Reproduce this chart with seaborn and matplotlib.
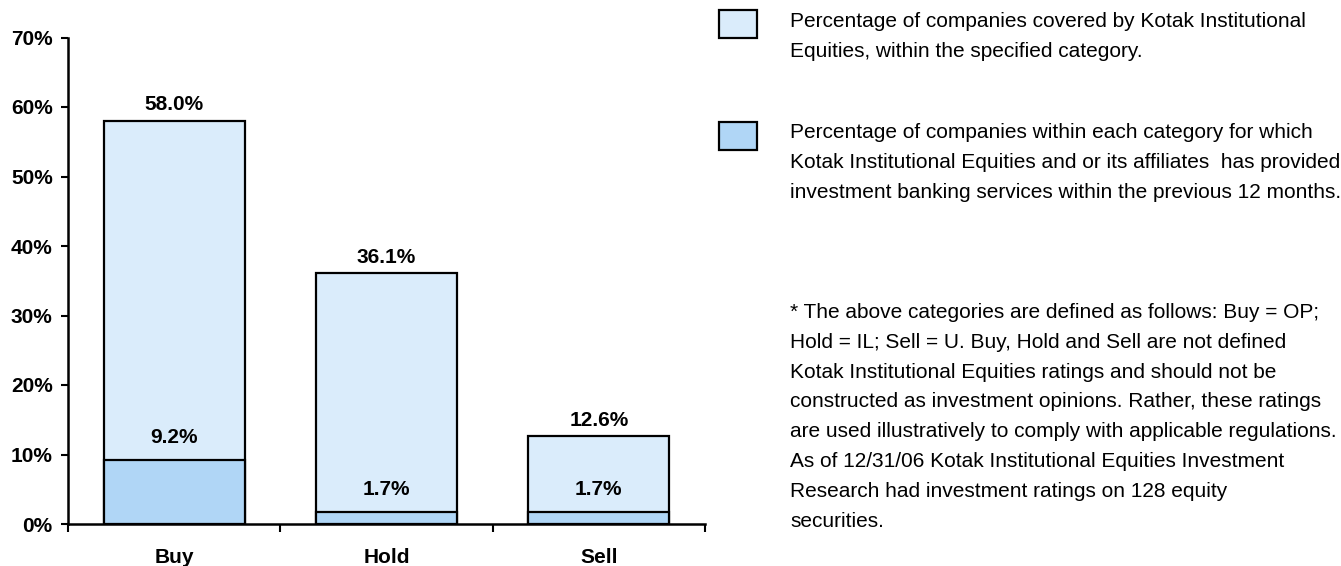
import matplotlib
matplotlib.use("Agg")
import matplotlib.pyplot as plt
import matplotlib.patches as mpatches
import seaborn as sns
import pandas as pd

categories = ["Buy", "Hold", "Sell"]
coverage = [58.0, 36.1, 12.6]
ib_services = [9.2, 1.7, 1.7]
y_ticks = [0, 10, 20, 30, 40, 50, 60, 70]

legend_cov = "Percentage of companies covered by Kotak Institutional\nEquities, within the specified category."
legend_ib = ("Percentage of companies within each category for which\n"
             "Kotak Institutional Equities and or its affiliates  has provided\n"
             "investment banking services within the previous 12 months.")
footnote = ("* The above categories are defined as follows: Buy = OP;\n"
            "Hold = IL; Sell = U. Buy, Hold and Sell are not defined\n"
            "Kotak Institutional Equities ratings and should not be\n"
            "constructed as investment opinions. Rather, these ratings\n"
            "are used illustratively to comply with applicable regulations.\n"
            "As of 12/31/06 Kotak Institutional Equities Investment\n"
            "Research had investment ratings on 128 equity\n"
            "securities.")

light = "#daecfb"
dark = "#b0d6f6"

sns.set_theme(style="white")
plt.rcParams["font.family"] = ["Liberation Sans", "DejaVu Sans"]
plt.rcParams["text.color"] = "black"
plt.rcParams["xtick.color"] = "black"
plt.rcParams["ytick.color"] = "black"
plt.rcParams["axes.labelcolor"] = "black"

df = pd.DataFrame({"category": categories, "coverage": coverage, "ib": ib_services})

fig = plt.figure(figsize=(13.41, 5.66), dpi=100)
ax = fig.add_axes([68 / 1341, 1 - 524 / 566, (705 - 68) / 1341, (524 - 37.5) / 566])

sns.barplot(data=df, x="category", y="coverage", order=categories, color=light,
            edgecolor="black", linewidth=1.6, width=0.665, saturation=1, ax=ax)
sns.barplot(data=df, x="category", y="ib", order=categories, color=dark,
            edgecolor="black", linewidth=1.6, width=0.665, saturation=1, ax=ax)

for i, (c, b) in enumerate(zip(coverage, ib_services)):
    ax.annotate(f"{c:.1f}%", (i, c), xytext=(0, 11.5), textcoords="offset points",
                ha="center", va="center", fontsize=15, fontweight="bold", color="black")
    ax.annotate(f"{b:.1f}%", (i, b), xytext=(0, 16.5), textcoords="offset points",
                ha="center", va="center", fontsize=15, fontweight="bold", color="black")

ax.set_xlim(-0.5, 2.5)
ax.set_ylim(0, 70)
ax.set_yticks(y_ticks)
ax.set_yticklabels([f"{t}%" for t in y_ticks], fontsize=15, fontweight="bold")
ax.set_xticks([-0.5, 0.5, 1.5, 2.5])
ax.set_xticklabels([])
ax.set_xticks([0, 1, 2], minor=True)
ax.set_xticklabels(categories, minor=True, fontsize=15, fontweight="bold")
ax.tick_params(axis="x", which="major", direction="out", length=6, width=1.5, color="black", bottom=True)
ax.tick_params(axis="x", which="minor", length=0, pad=17)
ax.tick_params(axis="y", direction="out", length=5, width=1.5, color="black", left=True, pad=6)
ax.set_xlabel("")
ax.set_ylabel("")
for s in ["top", "right"]:
    ax.spines[s].set_visible(False)
for s in ["left", "bottom"]:
    ax.spines[s].set_color("black")
    ax.spines[s].set_linewidth(1.8)

# legend squares
W, H = 1341, 566
for top, col in [(10, light), (122, dark)]:
    fig.patches.append(mpatches.Rectangle((719 / W, 1 - (top + 28) / H), 38 / W, 28 / H,
                                          transform=fig.transFigure, facecolor=col,
                                          edgecolor="black", linewidth=1.6))

fs = 15
ls = 1.72
fig.text(790 / W, 1 - 12 / H, legend_cov, ha="left", va="top", fontsize=fs, linespacing=ls)
fig.text(790 / W, 1 - 123 / H, legend_ib, ha="left", va="top", fontsize=fs, linespacing=ls)
fig.text(790 / W, 1 - 303 / H, footnote, ha="left", va="top", fontsize=fs, linespacing=ls)

fig.savefig("out.png", dpi=100)
